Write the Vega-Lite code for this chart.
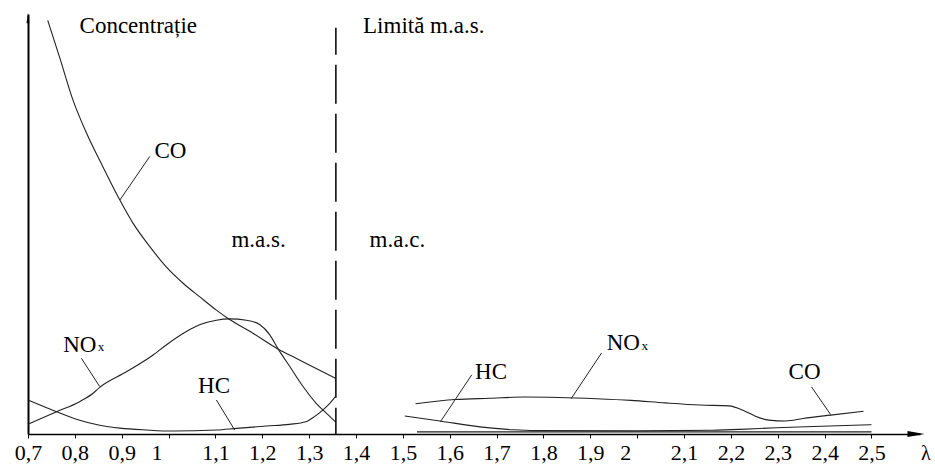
{
  "$schema": "https://vega.github.io/schema/vega-lite/v6.json",
  "width": 892,
  "height": 420,
  "autosize": {"type": "none"},
  "padding": {"left": 28, "top": 14, "right": 15, "bottom": 30},
  "background": "white",
  "config": {"view": {"stroke": null}, "font": "'Times New Roman', Times, 'Liberation Serif', 'DejaVu Serif', serif"},
  "datasets": {
    "curves": [
      {"curve": "CO_mas", "lambda": 0.742, "c": 98.5},
      {"curve": "CO_mas", "lambda": 0.768, "c": 89.5},
      {"curve": "CO_mas", "lambda": 0.796, "c": 79.5},
      {"curve": "CO_mas", "lambda": 0.825, "c": 71.6},
      {"curve": "CO_mas", "lambda": 0.860, "c": 63.6},
      {"curve": "CO_mas", "lambda": 0.896, "c": 55.7},
      {"curve": "CO_mas", "lambda": 0.924, "c": 50.2},
      {"curve": "CO_mas", "lambda": 0.960, "c": 44.6},
      {"curve": "CO_mas", "lambda": 0.995, "c": 39.8},
      {"curve": "CO_mas", "lambda": 1.031, "c": 35.9},
      {"curve": "CO_mas", "lambda": 1.066, "c": 32.7},
      {"curve": "CO_mas", "lambda": 1.102, "c": 29.5},
      {"curve": "CO_mas", "lambda": 1.127, "c": 27.5},
      {"curve": "CO_mas", "lambda": 1.180, "c": 24.0},
      {"curve": "CO_mas", "lambda": 1.234, "c": 20.2},
      {"curve": "CO_mas", "lambda": 1.273, "c": 18.0},
      {"curve": "CO_mas", "lambda": 1.315, "c": 15.6},
      {"curve": "CO_mas", "lambda": 1.356, "c": 13.3},
      {"curve": "NOx_mas", "lambda": 0.700, "c": 2.3},
      {"curve": "NOx_mas", "lambda": 0.761, "c": 5.3},
      {"curve": "NOx_mas", "lambda": 0.810, "c": 7.7},
      {"curve": "NOx_mas", "lambda": 0.839, "c": 9.7},
      {"curve": "NOx_mas", "lambda": 0.853, "c": 11.1},
      {"curve": "NOx_mas", "lambda": 0.910, "c": 14.8},
      {"curve": "NOx_mas", "lambda": 0.967, "c": 18.8},
      {"curve": "NOx_mas", "lambda": 0.995, "c": 21.2},
      {"curve": "NOx_mas", "lambda": 1.038, "c": 24.4},
      {"curve": "NOx_mas", "lambda": 1.066, "c": 26.0},
      {"curve": "NOx_mas", "lambda": 1.102, "c": 27.1},
      {"curve": "NOx_mas", "lambda": 1.130, "c": 27.4},
      {"curve": "NOx_mas", "lambda": 1.166, "c": 27.1},
      {"curve": "NOx_mas", "lambda": 1.195, "c": 26.0},
      {"curve": "NOx_mas", "lambda": 1.216, "c": 23.6},
      {"curve": "NOx_mas", "lambda": 1.234, "c": 20.2},
      {"curve": "NOx_mas", "lambda": 1.259, "c": 16.0},
      {"curve": "NOx_mas", "lambda": 1.287, "c": 11.3},
      {"curve": "NOx_mas", "lambda": 1.315, "c": 7.3},
      {"curve": "NOx_mas", "lambda": 1.337, "c": 4.9},
      {"curve": "NOx_mas", "lambda": 1.356, "c": 2.9},
      {"curve": "HC_mas", "lambda": 0.700, "c": 8.1},
      {"curve": "HC_mas", "lambda": 0.761, "c": 5.3},
      {"curve": "HC_mas", "lambda": 0.803, "c": 3.5},
      {"curve": "HC_mas", "lambda": 0.853, "c": 2.1},
      {"curve": "HC_mas", "lambda": 0.896, "c": 1.4},
      {"curve": "HC_mas", "lambda": 0.953, "c": 0.95},
      {"curve": "HC_mas", "lambda": 1.009, "c": 0.7},
      {"curve": "HC_mas", "lambda": 1.102, "c": 0.95},
      {"curve": "HC_mas", "lambda": 1.145, "c": 1.35},
      {"curve": "HC_mas", "lambda": 1.209, "c": 1.9},
      {"curve": "HC_mas", "lambda": 1.258, "c": 2.3},
      {"curve": "HC_mas", "lambda": 1.293, "c": 2.9},
      {"curve": "HC_mas", "lambda": 1.312, "c": 4.2},
      {"curve": "HC_mas", "lambda": 1.329, "c": 5.7},
      {"curve": "HC_mas", "lambda": 1.344, "c": 7.3},
      {"curve": "HC_mas", "lambda": 1.356, "c": 8.9},
      {"curve": "NOx_mac", "lambda": 1.527, "c": 7.2},
      {"curve": "NOx_mac", "lambda": 1.612, "c": 8.2},
      {"curve": "NOx_mac", "lambda": 1.685, "c": 8.5},
      {"curve": "NOx_mac", "lambda": 1.759, "c": 8.8},
      {"curve": "NOx_mac", "lambda": 1.832, "c": 8.7},
      {"curve": "NOx_mac", "lambda": 1.913, "c": 8.4},
      {"curve": "NOx_mac", "lambda": 1.987, "c": 8.0},
      {"curve": "NOx_mac", "lambda": 2.060, "c": 7.4},
      {"curve": "NOx_mac", "lambda": 2.134, "c": 6.9},
      {"curve": "NOx_mac", "lambda": 2.196, "c": 6.7},
      {"curve": "NOx_mac", "lambda": 2.229, "c": 5.5},
      {"curve": "NOx_mac", "lambda": 2.251, "c": 4.3},
      {"curve": "NOx_mac", "lambda": 2.281, "c": 3.3},
      {"curve": "NOx_mac", "lambda": 2.317, "c": 3.1},
      {"curve": "NOx_mac", "lambda": 2.354, "c": 3.7},
      {"curve": "NOx_mac", "lambda": 2.413, "c": 4.5},
      {"curve": "NOx_mac", "lambda": 2.483, "c": 5.4},
      {"curve": "HC_mac", "lambda": 1.504, "c": 4.3},
      {"curve": "HC_mac", "lambda": 1.579, "c": 3.1},
      {"curve": "HC_mac", "lambda": 1.664, "c": 1.7},
      {"curve": "HC_mac", "lambda": 1.735, "c": 1.0},
      {"curve": "HC_mac", "lambda": 1.781, "c": 0.8},
      {"curve": "HC_mac", "lambda": 2.0, "c": 0.75},
      {"curve": "HC_mac", "lambda": 2.16, "c": 0.9},
      {"curve": "HC_mac", "lambda": 2.22, "c": 1.1},
      {"curve": "HC_mac", "lambda": 2.297, "c": 1.5},
      {"curve": "HC_mac", "lambda": 2.411, "c": 1.9},
      {"curve": "HC_mac", "lambda": 2.5, "c": 2.2},
      {"curve": "CO_mac", "lambda": 1.530, "c": 0.5},
      {"curve": "CO_mac", "lambda": 2.5, "c": 0.5}
    ],
    "leaders": [
      {"id": "co1", "lambda": 0.960, "c": 66.1},
      {"id": "co1", "lambda": 0.896, "c": 55.7},
      {"id": "nox1", "lambda": 0.814, "c": 18.0},
      {"id": "nox1", "lambda": 0.853, "c": 11.3},
      {"id": "hc1", "lambda": 1.102, "c": 8.1},
      {"id": "hc1", "lambda": 1.141, "c": 0.95},
      {"id": "hc2", "lambda": 1.647, "c": 14.1},
      {"id": "hc2", "lambda": 1.580, "c": 2.9},
      {"id": "nox2", "lambda": 1.924, "c": 19.3},
      {"id": "nox2", "lambda": 1.859, "c": 8.4},
      {"id": "co2", "lambda": 2.372, "c": 11.2},
      {"id": "co2", "lambda": 2.413, "c": 4.6}
    ],
    "labels": [
      {"lambda": 0.810, "c": 95.5, "text": "Concentrație"},
      {"lambda": 1.415, "c": 95.5, "text": "Limită m.a.s."},
      {"lambda": 1.134, "c": 44.6, "text": "m.a.s."},
      {"lambda": 1.429, "c": 44.6, "text": "m.a.c."},
      {"lambda": 0.970, "c": 65.6, "text": "CO"},
      {"lambda": 0.775, "c": 19.6, "text": "NO"},
      {"lambda": 1.063, "c": 9.8, "text": "HC"},
      {"lambda": 1.654, "c": 13.1, "text": "HC"},
      {"lambda": 1.935, "c": 20.1, "text": "NO"},
      {"lambda": 2.323, "c": 13.1, "text": "CO"}
    ],
    "subs": [
      {"lambda": 0.849, "c": 19.8, "text": "x"},
      {"lambda": 2.009, "c": 20.1, "text": "x"}
    ],
    "axislabel": [
      {"lambda": 2.616, "c": -6.2, "text": "λ"}
    ],
    "limit": [
      {"lambda": 1.357, "c": 96.7, "c2": 0}
    ],
    "arrows": [
      {"axis": "y", "lambda": 0.7, "c": 99.0},
      {"axis": "x", "lambda": 2.595, "c": 0}
    ]
  },
  "encoding": {
    "x": {
      "field": "lambda",
      "type": "quantitative",
      "scale": {"domain": [0.7, 2.6035], "nice": false, "zero": false},
      "axis": {
        "values": [0.7, 0.8, 0.9, 1, 1.1, 1.2, 1.3, 1.4, 1.5, 1.6, 1.7, 1.8, 1.9, 2, 2.1, 2.2, 2.3, 2.4, 2.5],
        "labelExpr": "replace(format(datum.value, '.1~f'), '.', ',')",
        "title": null,
        "grid": false,
        "domainColor": "black",
        "domainWidth": 1.5,
        "tickColor": "black",
        "tickSize": 4,
        "tickWidth": 1,
        "labelFont": "'Times New Roman', Times, 'Liberation Serif', 'DejaVu Serif', serif",
        "labelFontSize": 22,
        "labelColor": "black",
        "labelPadding": 4.5,
        "labelFlush": false,
        "labelOverlap": false,
        "labelBound": false,
        "labelOffset": {"condition": {"test": "datum.value == 1 || datum.value == 2", "value": -12}, "value": 0}
      }
    },
    "y": {
      "field": "c",
      "type": "quantitative",
      "scale": {"domain": [0, 100], "nice": false, "zero": false},
      "axis": {
        "title": null,
        "grid": false,
        "ticks": false,
        "labels": false,
        "domainColor": "black",
        "domainWidth": 2
      }
    }
  },
  "layer": [
    {
      "data": {"name": "curves"},
      "mark": {"type": "line", "stroke": "#222", "strokeWidth": 1.1, "interpolate": "monotone"},
      "encoding": {"detail": {"field": "curve"}}
    },
    {
      "data": {"name": "leaders"},
      "mark": {"type": "line", "stroke": "#222", "strokeWidth": 1},
      "encoding": {"detail": {"field": "id"}}
    },
    {
      "data": {"name": "limit"},
      "mark": {"type": "rule", "stroke": "black", "strokeWidth": 1.5, "strokeDash": [39, 10], "strokeDashOffset": 12},
      "encoding": {"y2": {"field": "c2"}}
    },
    {
      "data": {"name": "labels"},
      "mark": {"type": "text", "font": "'Times New Roman', Times, 'Liberation Serif', 'DejaVu Serif', serif", "fontSize": 23, "align": "left", "baseline": "alphabetic", "fill": "black"},
      "encoding": {"text": {"field": "text"}}
    },
    {
      "data": {"name": "subs"},
      "mark": {"type": "text", "font": "'Times New Roman', Times, 'Liberation Serif', 'DejaVu Serif', serif", "fontSize": 13, "align": "left", "baseline": "alphabetic", "fill": "black"},
      "encoding": {"text": {"field": "text"}}
    },
    {
      "data": {"name": "axislabel"},
      "mark": {"type": "text", "font": "'Times New Roman', Times, 'Liberation Serif', 'DejaVu Serif', serif", "fontSize": 20, "align": "center", "baseline": "alphabetic", "fill": "black"},
      "encoding": {"text": {"field": "text"}}
    },
    {
      "data": {"name": "arrows"},
      "transform": [{"filter": "datum.axis == 'y'"}],
      "mark": {"type": "point", "shape": "M0,-1L0.3,1L-0.3,1Z", "filled": true, "fill": "black", "strokeWidth": 0, "size": 100, "opacity": 1}
    },
    {
      "data": {"name": "arrows"},
      "transform": [{"filter": "datum.axis == 'x'"}],
      "mark": {"type": "point", "shape": "M1,0L-1,-0.35L-1,0.35Z", "filled": true, "fill": "black", "strokeWidth": 0, "size": 289, "opacity": 1}
    }
  ]
}
